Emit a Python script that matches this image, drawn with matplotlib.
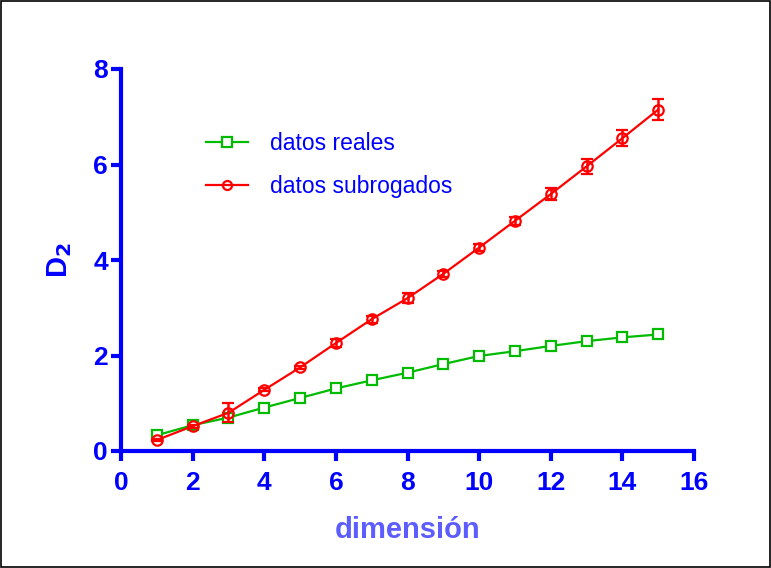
import matplotlib
matplotlib.use("Agg")
import matplotlib.pyplot as plt
from matplotlib.patches import Rectangle
from matplotlib.lines import Line2D

plt.rcParams['font.family'] = ['Liberation Sans', 'DejaVu Sans']

dimension = [1, 2, 3, 4, 5, 6, 7, 8, 9, 10, 11, 12, 13, 14, 15]
reales = [0.33, 0.54, 0.70, 0.91, 1.11, 1.31, 1.48, 1.64, 1.82, 1.99, 2.09, 2.20, 2.30, 2.38, 2.44]
subrogados = [0.23, 0.52, 0.80, 1.28, 1.75, 2.26, 2.76, 3.20, 3.71, 4.26, 4.82, 5.38, 5.96, 6.55, 7.15]
subrogados_err = [0.02, 0.03, 0.20, 0.03, 0.03, 0.08, 0.07, 0.10, 0.07, 0.08, 0.08, 0.12, 0.165, 0.165, 0.22]
xticks = [0, 2, 4, 6, 8, 10, 12, 14, 16]
yticks = [0, 2, 4, 6, 8]

blue = '#0000ff'
green = '#00bb00'
red = '#ff0000'
fig = plt.figure(figsize=(7.71, 5.68), dpi=100)
ax = fig.add_axes([121/771, 1-451/568, (694-121)/771, (451-69)/568])

ax.plot(dimension, reales, color=green, lw=1.6, marker='s', ms=7,
        mfc='white', mec=green, mew=1.6, label='datos reales', clip_on=False)
ax.errorbar(dimension, subrogados, yerr=subrogados_err, color=red, lw=1.6,
            marker='o', ms=7.5, mfc='none', mec=red, mew=1.6,
            ecolor=red, elinewidth=1.8, capsize=4, capthick=2,
            label='datos subrogados', clip_on=False)

ax.set_xlim(0, 16)
ax.set_ylim(0, 8)
ax.set_xticks(xticks)
ax.set_yticks(yticks)
for s in ['top', 'right']:
    ax.spines[s].set_visible(False)
for s in ['left', 'bottom']:
    ax.spines[s].set_color(blue)
    ax.spines[s].set_linewidth(3)
ax.tick_params(axis='both', colors=blue, width=3, length=7.5, labelsize=19)
ax.tick_params(axis='x', pad=7)
ax.tick_params(axis='y', pad=2)
for lab in ax.get_xticklabels() + ax.get_yticklabels():
    lab.set_fontweight('bold')
    lab.set_color(blue)

ax.set_xlabel('dimensión', fontsize=21, fontweight='bold', color='#5c5cff', labelpad=15)
ax.set_ylabel('D$_\\mathbf{2}$', fontsize=21, fontweight='bold', color=blue, labelpad=14)

h1 = Line2D([], [], color=green, lw=1.6, marker='s', ms=6.5, mfc='white', mec=green, mew=1.6)
h2 = Line2D([], [], color=red, lw=1.6, marker='o', ms=6.5, mfc='none', mec=red, mew=1.6)
leg = fig.legend([h1, h2], ['datos reales', 'datos subrogados'], loc='upper left',
                 bbox_to_anchor=(185/771, 1-111/568), frameon=False, fontsize=16.5,
                 handlelength=1.85, handletextpad=0.95, labelspacing=0.88)
for t in leg.get_texts():
    t.set_color(blue)

fig.patches.append(Rectangle((0.0015, 0.002), 0.997, 0.996, transform=fig.transFigure,
                             fill=False, edgecolor='black', lw=1.2))

fig.savefig('out.png', dpi=100)
